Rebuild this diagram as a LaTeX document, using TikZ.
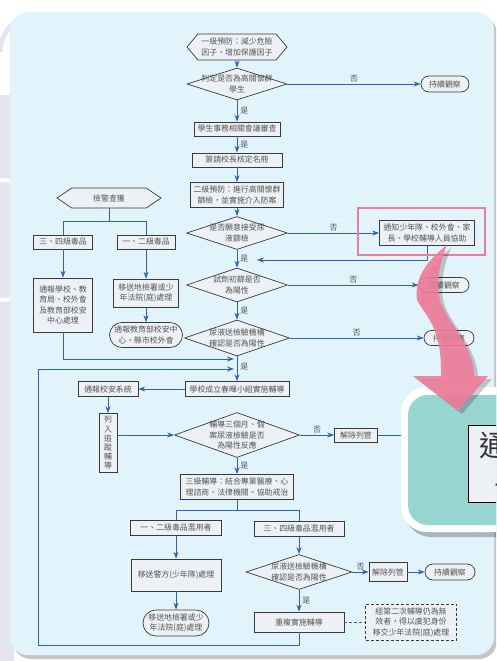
\documentclass[tikz,border=0pt]{standalone}
\usepackage{fontspec}
\setmainfont{Noto Sans CJK TC}
\usetikzlibrary{arrows.meta}
\usetikzlibrary{calc}
\usetikzlibrary{shapes.geometric}
\usetikzlibrary{shapes.misc}
\usetikzlibrary{shapes.symbols}
\usetikzlibrary{positioning}
\definecolor{flowC}{HTML}{2E63B8}
\definecolor{lineC}{HTML}{3A3A3A}
\definecolor{nodeC}{HTML}{EDF0F5}
\definecolor{txtC}{HTML}{555555}
\definecolor{panelC}{HTML}{E2F4FB}
\definecolor{pinkC}{HTML}{EF7B9A}
\definecolor{tealC}{HTML}{97D5D0}
\definecolor{lavC}{HTML}{E6E4F0}
\newcommand{\nfont}{\fontsize{7.9}{10.5}\selectfont}
\newcommand{\dtxt}[1]{\makebox[0pt]{\raisebox{-3pt}[0pt][0pt]{\begin{tabular}{@{}c@{}}#1\end{tabular}}}}
\tikzset{box/.style={draw=lineC, fill=nodeC, text=txtC, font=\nfont, align=center, inner sep=1pt, line width=0.7pt}}
\tikzset{dia/.style={box, diamond, inner sep=0pt}}
\tikzset{term/.style={box, rounded rectangle}}
\tikzset{hex/.style={box, signal, signal to=east and west}}
\tikzset{sz/.style 2 args={minimum width=#1pt, minimum height=#2pt}}
\tikzset{arrow/.style={-{Stealth[length=7pt,width=5pt]}, draw=flowC, line width=0.9pt}}
\tikzset{link/.style={draw=flowC, line width=0.9pt}}
\tikzset{lbl/.style={text=txtC, font=\nfont, inner sep=1pt}}
\tikzset{bigbox/.style={draw=black, line width=1pt, fill=nodeC, text=black!80, font=\fontsize{29}{38}\selectfont, align=center, inner xsep=11pt, inner ysep=6pt}}

\begin{document}
\begin{tikzpicture}[x=1pt,y=-1pt]
    \useasboundingbox (0,0) rectangle (496,661);
    \clip (0,0) rectangle (496,661);

    % background and panel
    \fill[white] (0,0) rectangle (496,661);
    \fill[lavC] (0,95) rectangle (14,661);
    \draw[lavC, line width=5pt] (0,52) arc[start angle=180, end angle=270, radius=36];
    \draw[white, line width=4pt] (0,300) arc[start angle=90, end angle=-90, radius=60];
    \fill[gray!45, rounded corners=18pt] (13,16) rectangle (497,659);
    \fill[panelC, rounded corners=18pt] (10,12) rectangle (494,655);

    % main column
    \node[hex, sz={100}{26}, signal pointer angle=100] (start) at (237,47) {一級預防：減少危險\\因子、增加保護因子};
    \node[dia, sz={100}{32}] (q1) at (237,84) {\dtxt{判定是否為高關懷群\\學生}};
    \node[term, sz={50}{16}] (keep1) at (445,84) {持續觀察};
    \node[box, sz={86}{14}] (meet) at (237,129) {學生事務相關會議審查};
    \node[box, sz={90}{14}] (sign) at (237,160) {簽請校長核定名冊};
    \node[box, sz={93}{25}] (second) at (237,195) {二級預防：進行高關懷群\\篩檢，並實施介入防案};
    \node[dia, sz={101}{33}] (q2) at (237,233) {\dtxt{是否願意接受尿\\液篩檢}};
    \node[box, sz={95}{25}] (notify) at (427,233) {通知少年隊、校外會、家\\長、學校輔導人員協助};
    \coordinate (j2) at (257,260);
    \node[dia, sz={101}{34}] (q3) at (237,285) {\dtxt{試劑初篩是否\\為陽性}};
    \node[term, sz={52}{15}] (keep2) at (444,285) {持續觀察};
    \node[dia, sz={105}{36}] (q4) at (237,338) {\dtxt{尿液送檢驗機構\\確認是否為陽性}};
    \node[term, sz={52}{15}] (keep3) at (449,338) {持續觀察};
    \coordinate (m1) at (234,359);
    \coordinate (m2) at (234,369);
    \node[box, sz={104}{15}] (group) at (237,389) {學校成立春暉小組實施輔導};
    \node[dia, sz={125}{45}] (q5) at (237,435) {\dtxt{輔導三個月、個\\案尿液檢驗是否\\為陽性反應}};
    \node[box, sz={43}{14}] (release1) at (356,435) {解除列管};
    \coordinate (rel) at (440,435);
    \node[box, sz={113}{25}] (third) at (237,487) {三級輔導：結合專業醫療、心\\理諮商、法律機關、協助戒治};
    \node[box, sz={91}{15}] (low) at (176,528) {一、二級毒品濫用者};
    \node[box, sz={90}{15}] (high) at (299,529) {三、四級毒品濫用者};
    \node[box, sz={90}{32}] (police) at (176,575) {移送警方(少年隊)處理};
    \node[term, sz={68}{26}] (court2) at (176,623) {移送地檢署或少\\年法院(庭)處理};
    \node[dia, sz={106}{35}] (q6) at (299,572) {\dtxt{尿液送檢驗機構\\確認是否為陽性}};
    \node[box, sz={38}{19}] (release2) at (388,572) {解除列管};
    \node[term, sz={52}{16}] (keep4) at (450,572) {持續觀察};
    \node[box, sz={90}{20}] (repeat) at (299,622) {重複實施輔導};
    \node[box, densely dashed, sz={91}{36}] (note) at (411,622) {經第二次輔導仍為無\\效者，得以虞犯身份\\移交少年法院(庭)處理};
    \coordinate (loopb) at (38,645);

    % left branch
    \node[hex, sz={104}{20}, signal pointer angle=68] (raid) at (109,198) {檢警查獲};
    \node[box, sz={59}{14}] (c34) at (63,242) {三、四級毒品};
    \node[box, sz={58}{14}] (c12) at (146,242) {一、二級毒品};
    \node[box, sz={59}{54}] (inform) at (63,305) {通報學校、教\\育局、校外會\\及教育部校安\\中心處理};
    \node[box, sz={65}{28}] (court1) at (146,293) {移送地檢署或少\\年法院(庭)處理};
    \node[term, sz={75}{25}] (edu) at (146,335) {通報教育部校安中\\心、縣市校外會};
    \node[box, sz={60}{15}] (report) at (108,389) {通報校安系統};
    \node[box, sz={18}{59}, font=\fontsize{7.9}{9.2}\selectfont] (track) at (108,443) {列\\入\\追\\蹤\\輔\\導};

    % connectors
    \draw[arrow] (start) -- (q1);
    \draw[arrow] (q1) -- node[lbl, above] {否} (keep1);
    \draw[arrow] (q1) -- node[lbl, right=2pt] {是} (meet);
    \draw[arrow] (meet) -- node[lbl, right=2pt] {是} (sign);
    \draw[arrow] (sign) -- (second);
    \draw[arrow] (second) -- (q2);
    \draw[arrow] (q2) -- node[lbl, above] {否} (notify);
    \draw[arrow] (notify) |- (j2);
    \draw[arrow] (q2) -- node[lbl, right=2pt] {是} (q3);
    \draw[arrow] (q3) -- node[lbl, above] {否} (keep2);
    \draw[arrow] (q3) -- node[lbl, right=2pt] {是} (q4);
    \draw[arrow] (q4) -- node[lbl, above] {否} (keep3);
    \draw[arrow] (q4) -- node[lbl, right=2pt, pos=0.4] {是} (group);
    \draw[arrow] (group) -- (report);
    \draw[arrow] (report) -- (track);
    \draw[arrow] (track.east |- q5.west) -- (q5.west);
    \draw[arrow] (q5) -- node[lbl, above] {否} (release1);
    \draw[link] (release1) -- (rel);
    \draw[arrow] (q5) -- node[lbl, right=2pt] {是} (third);
    \draw[link] (third.south) -- ++(0,11) coordinate (ts) -| (low.north);
    \draw[link] (ts) -| (high.north);
    \draw[arrow] (low) -- (police);
    \draw[arrow] (police) -- (court2);
    \draw[arrow] (high) -- (q6);
    \draw[arrow] (q6) -- node[lbl, above] {否} (release2);
    \draw[arrow] (release2) -- (keep4);
    \draw[arrow] (q6) -- node[lbl, right=2pt] {是} (repeat);
    \draw[link, densely dashed] (repeat) -- (note);
    \draw[arrow] (repeat.south) |- (loopb) |- (m2);
    \draw[link] (raid.south) -- ++(0,13) coordinate (rs) -| (c34.north);
    \draw[link] (rs) -| (c12.north);
    \draw[arrow] (c34) -- (inform);
    \draw[arrow] (c12) -- (court1);
    \draw[arrow] (court1) -- (edu);
    \draw[arrow] (inform.south) |- (m1);

    % highlight and zoom panel
    \draw[pinkC, line width=2pt] (358,208) rectangle (485,255);
    \fill[black, opacity=0.25, rounded corners=26pt] (405,392) rectangle (560,537);
    \fill[white, rounded corners=26pt] (401,387) rectangle (560,532);
    \fill[tealC, rounded corners=20pt] (408,395) rectangle (560,525);
    \node[bigbox, anchor=north west] (zoomnote) at (468,425) {通知少年隊、校外會、家\\長、學校輔導人員協助};

    % pink ribbon arrow
    \fill[black, opacity=0.2] (451,248) .. controls (429,265) and (418,283) .. (421,303)
        .. controls (428,318) and (446,328) .. (445,379) -- (417,379) -- (462,414) -- (492,379) -- (478,379)
        .. controls (478,348) and (449,323) .. (444,303) .. controls (439,285) and (444,265) .. (451,248) -- cycle;
    \fill[pinkC, opacity=0.9] (447,245) .. controls (425,262) and (414,280) .. (417,300)
        .. controls (424,315) and (442,325) .. (441,376) -- (413,376) -- (458,411) -- (488,376) -- (474,376)
        .. controls (474,345) and (445,320) .. (440,300) .. controls (435,282) and (440,262) .. (447,245) -- cycle;
\end{tikzpicture}
\end{document}
